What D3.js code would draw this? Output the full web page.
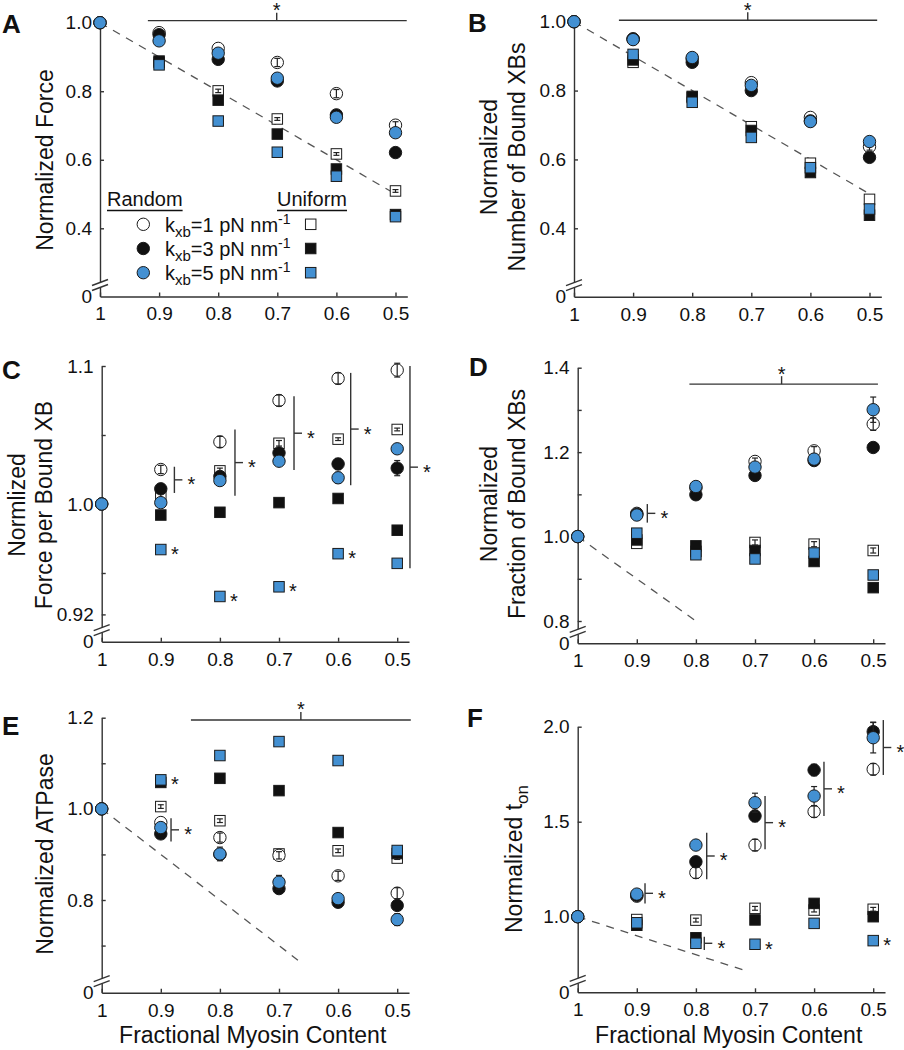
<!DOCTYPE html>
<html><head><meta charset="utf-8">
<script src="https://cdn.jsdelivr.net/npm/d3@7"></script>
<style>
body{margin:0;background:#fff}
svg{display:block}
text{font-family:"Liberation Sans",Arial,Helvetica,sans-serif;fill:#111}
</style>
</head><body>
<svg id="c" width="904" height="1050"></svg>
<script>
// ---------------- DATA ----------------
const fmc = [1, 0.9, 0.8, 0.7, 0.6, 0.5];            // fractional myosin content
const xTickLabels = ["1", "0.9", "0.8", "0.7", "0.6", "0.5"];
const kxbValues = ["1", "3", "5"];
const groupLabels = ["Random", "Uniform"];
const xTitle = "Fractional Myosin Content";

// A: Normalized Force
const forceR1 = [1, 0.971, 0.925, 0.884, 0.793, 0.701];
const forceR3 = [1, 0.965, 0.893, 0.830, 0.731, 0.621];
const forceR5 = [1, 0.947, 0.911, 0.838, 0.724, 0.679];
const forceU1 = [1, 0.884, 0.801, 0.719, 0.617, 0.509];
const forceU3 = [1, 0.888, 0.774, 0.675, 0.573, 0.440];
const forceU5 = [1, 0.877, 0.713, 0.622, 0.552, 0.434];
const forceErrR1 = [0, 0, 0, 0.012, 0.012, 0.010];
const forceErrU1 = [0, 0, 0.005, 0.004, 0.004, 0.004];
const forceYTicks = [0.4, 0.6, 0.8, 1.0];
const forceYLabels = ["0.4", "0.6", "0.8", "1.0"];

// B: Normalized Number of Bound XBs
const boundR1 = [1, 0.950, 0.892, 0.823, 0.722, 0.637];
const boundR3 = [1, 0.950, 0.882, 0.800, 0.712, 0.606];
const boundR5 = [1, 0.948, 0.896, 0.815, 0.710, 0.652];
const boundU1 = [1, 0.882, 0.780, 0.695, 0.589, 0.484];
const boundU3 = [1, 0.889, 0.783, 0.684, 0.562, 0.438];
const boundU5 = [1, 0.905, 0.766, 0.664, 0.576, 0.456];
const boundErrR1 = [0, 0, 0, 0, 0, 0.010];
const boundYTicks = [0.4, 0.6, 0.8, 1.0];
const boundYLabels = ["0.4", "0.6", "0.8", "1.0"];

// C: Normalized Force per Bound XB
const fpxR1 = [1, 1.025, 1.045, 1.075, 1.091, 1.097];
const fpxR3 = [1, 1.011, 1.020, 1.037, 1.029, 1.026];
const fpxR5 = [1, 1.001, 1.017, 1.031, 1.019, 1.040];
const fpxU1 = [1, 1.006, 1.024, 1.044, 1.047, 1.054];
const fpxU3 = [1, 0.992, 0.994, 1.001, 1.004, 0.981];
const fpxU5 = [1, 0.967, 0.933, 0.940, 0.964, 0.957];
const fpxErrR1 = [0, 0.003, 0.004, 0.004, 0.004, 0.005];
const fpxErrR3 = [0, 0.002, 0, 0.002, 0.004, 0.0055];
const fpxErrR5 = [0, 0.002, 0.003, 0.002, 0.004, 0.003];
const fpxErrU1 = [0, 0.002, 0.002, 0.002, 0.001, 0.001];
const fpxErrU3 = [0, 0, 0, 0, 0, 0.0025];
const fpxYTicks = [0.92, 1.0, 1.1];
const fpxYLabels = ["0.92", "1.0", "1.1"];
const fpxYMinor = [0.95, 1.05];

// D: Normalized Fraction of Bound XBs
const fracR1 = [1, 1.055, 1.115, 1.178, 1.203, 1.2665];
const fracR3 = [1, 1.053, 1.099, 1.1447, 1.180, 1.211];
const fracR5 = [1, 1.051, 1.1186, 1.1646, 1.1835, 1.3005];
const fracU1 = [1, 0.984, 0.965, 0.986, 0.982, 0.967];
const fracU3 = [1, 0.992, 0.978, 0.967, 0.941, 0.879];
const fracU5 = [1, 1.008, 0.957, 0.947, 0.961, 0.909];
const fracErrR1 = [0, 0, 0, 0.008, 0.010, 0.015];
const fracErrR3 = [0, 0, 0, 0, 0, 0.010];
const fracErrR5 = [0, 0, 0, 0, 0.012, 0.030];
const fracErrU1 = [0, 0, 0, 0.006, 0.006, 0.006];
const fracYTicks = [0.8, 1.0, 1.2, 1.4];
const fracYLabels = ["0.8", "1.0", "1.2", "1.4"];
const fracYMinor = [0.9, 1.1, 1.3];

// E: Normalized ATPase
const atpR1 = [1, 0.970, 0.937, 0.898, 0.853, 0.815];
const atpR3 = [1, 0.945, 0.900, 0.825, 0.795, 0.788];
const atpR5 = [1, 0.959, 0.901, 0.839, 0.803, 0.757];
const atpU1 = [1, 1.005, 0.974, 0.901, 0.908, 0.892];
const atpU3 = [1, 1.058, 1.067, 1.040, 0.948, 0.902];
const atpU5 = [1, 1.0636, 1.117, 1.1476, 1.106, 0.9086];
const atpErrR1 = [0, 0, 0.010, 0.008, 0.010, 0.012];
const atpErrR3 = [0, 0, 0, 0.010, 0.010, 0];
const atpErrR5 = [0, 0, 0.015, 0.015, 0.010, 0.013];
const atpErrU1 = [0, 0.004, 0.004, 0.004, 0.004, 0.003];
const atpYTicks = [0.8, 1.0, 1.2];
const atpYLabels = ["0.8", "1.0", "1.2"];
const atpYMinor = [0.7, 0.9, 1.1];

// F: Normalized t_on
const tonR1 = [1, 1.108, 1.232, 1.377, 1.553, 1.776];
const tonR3 = [1, 1.112, 1.289, 1.530, 1.772, 1.974];
const tonR5 = [1, 1.119, 1.377, 1.600, 1.635, 1.942];
const tonU1 = [1, 0.985, 0.982, 1.044, 1.035, 1.039];
const tonU3 = [1, 0.955, 0.889, 0.983, 1.070, 1.000];
const tonU5 = [1, 0.968, 0.860, 0.855, 0.965, 0.874];
const tonErrR1 = [0, 0, 0.030, 0.030, 0.030, 0.030];
const tonErrR3 = [0, 0, 0, 0.030, 0.030, 0.050];
const tonErrR5 = [0, 0, 0, 0.050, 0.050, 0.080];
const tonErrU1 = [0, 0, 0.010, 0.010, 0.010, 0.010];
const tonYTicks = [1.0, 1.5, 2.0];
const tonYLabels = ["1.0", "1.5", "2.0"];

// significance annotations (data units)
const sigBarA = [0.919, 0.481, 1.006, 0.701];   // x from, x to, y, x of star
const sigBarB = [0.924, 0.487, 1.004, 0.706];
const sigBarD = [0.811, 0.492, 1.361, 0.655];
const sigBarE = [0.849, 0.477, 1.195, 0.663];
const bracketsC = [[0.877, 1.027, 1.008], [0.7745, 1.054, 1.006], [0.6746, 1.078, 1.0246], [0.5787, 1.095, 1.0136], [0.4784, 1.100, 0.9534]];
const bracketsD = [[0.8822, 1.077, 1.033]];
const bracketsE = [[0.8827, 0.9796, 0.9283]];
const bracketsF = [[0.8861, 1.176, 1.070], [0.7817, 1.442, 1.197], [0.7858, 0.895, 0.825], [0.683, 1.635, 1.355], [0.5833, 1.816, 1.530], [0.4829, 2.035, 1.746]];
const starsC = [[0.9, 0.967], [0.8, 0.933], [0.7, 0.940], [0.6, 0.964]];
const starsE = [[0.9, 1.0636]];
const starsF = [[0.7, 0.855], [0.5, 0.874]];

// identity (y = x) dashed reference ends
const identityEndA = 0.5, identityEndB = 0.5, identityEndD = 0.8, identityEndE = 0.668, identityEndF = 0.715;

// ---------------- DRAWING ----------------
const svg = d3.select("#c");
const BLUE = "#4390d2", BLACK = "#111", AX = "#333";
const seriesStyle = {
  u1: {shape: "square", fill: "#fff"},
  u3: {shape: "square", fill: BLACK},
  u5: {shape: "square", fill: BLUE},
  r1: {shape: "circle", fill: "#fff"},
  r3: {shape: "circle", fill: BLACK},
  r5: {shape: "circle", fill: BLUE}
};
const drawOrder = ["u1", "u3", "u5", "r1", "r3", "r5"];
const FONT_TICK = 19, FONT_TITLE = 23;

function panel(cfg) {
  const g = svg.append("g");
  const x = d3.scaleLinear().domain([1, 0.48]).range([cfg.left, cfg.left + 0.52 * 591]);
  const lin = d3.scaleLinear().domain([cfg.yLowVal, cfg.yTopVal]).range([cfg.yLowPx, cfg.yTopPx]);
  const breakPx = cfg.axisY - 11;
  const breakVal = lin.invert(breakPx);
  const y = d3.scaleLinear().domain([0, breakVal, cfg.yTopVal]).range([cfg.axisY, breakPx, cfg.yTopPx]);

  // x axis
  const xa = g.append("g").attr("transform", `translate(0,${cfg.axisY})`)
    .call(d3.axisBottom(x).tickValues(fmc).tickSize(-4).tickSizeOuter(0).tickPadding(10.5)
      .tickFormat((d, i) => xTickLabels[i]));
  // y axis
  const yVals = cfg.yTicks.concat([0]);
  const yLabs = cfg.yLabels.concat(["0"]);
  const ya = g.append("g").attr("transform", `translate(${cfg.left},0)`)
    .call(d3.axisLeft(y).tickValues(yVals).tickSize(-4).tickSizeOuter(0).tickPadding(8)
      .tickFormat((d, i) => yLabs[i]));
  ya.selectAll(".tick").filter(d => d === 0).select("line").remove();
  if (cfg.minor) {
    g.append("g").attr("transform", `translate(${cfg.left},0)`)
      .call(d3.axisLeft(y).tickValues(cfg.minor).tickSize(-4).tickSizeOuter(0).tickFormat(""))
      .select(".domain").remove();
  }
  [xa, ya].forEach(a => {
    a.attr("font-family", null).attr("font-size", FONT_TICK);
    a.selectAll("path,line").attr("stroke", AX).attr("stroke-width", 1.4);
    a.selectAll("text").attr("fill", "#111");
  });
  g.selectAll("line").attr("stroke", AX).attr("stroke-width", 1.4);
  // axis break
  g.append("rect").attr("x", cfg.left - 3).attr("y", breakPx - 3).attr("width", 6).attr("height", 5).attr("fill", "#fff");
  [[-1, -4], [-1 + 5, -4 + 5]].forEach(([a, b]) => {
    g.append("line").attr("x1", cfg.left - 8).attr("y1", breakPx + b + 3 + 1)
      .attr("x2", cfg.left + 8).attr("y2", breakPx + b - 2)
      .attr("stroke", AX).attr("stroke-width", 1.4);
  });

  // identity dashed line
  if (cfg.identityEnd) {
    g.append("line").attr("x1", x(1)).attr("y1", y(1)).attr("x2", x(cfg.identityEnd)).attr("y2", y(cfg.identityEnd))
      .attr("stroke", "#555").attr("stroke-width", 1.3).attr("stroke-dasharray", "8,7");
  }

  // top significance bar
  if (cfg.sigBar) {
    const [a, b, v, s] = cfg.sigBar;
    g.append("line").attr("x1", x(a)).attr("x2", x(b)).attr("y1", y(v)).attr("y2", y(v)).attr("stroke", AX).attr("stroke-width", 1.4);
    g.append("line").attr("x1", x(s)).attr("x2", x(s)).attr("y1", y(v)).attr("y2", y(v) - 8).attr("stroke", AX).attr("stroke-width", 1.4);
    star(g, x(s), y(v) - 15);
  }
  (cfg.brackets || []).forEach(([bx, v1, v2]) => {
    const X = x(bx), ym = (y(v1) + y(v2)) / 2;
    g.append("line").attr("x1", X).attr("x2", X).attr("y1", y(v1)).attr("y2", y(v2)).attr("stroke", AX).attr("stroke-width", 1.4);
    g.append("line").attr("x1", X).attr("x2", X + 8).attr("y1", ym).attr("y2", ym).attr("stroke", AX).attr("stroke-width", 1.4);
    star(g, X + 17, ym);
  });
  (cfg.stars || []).forEach(([sx, sv]) => star(g, x(sx) + 14, y(sv)));

  // series
  drawOrder.forEach(key => {
    const vals = cfg.series[key];
    const errs = (cfg.errors && cfg.errors[key]) || null;
    const st = seriesStyle[key];
    const open = st.fill === "#fff";
    const pts = fmc.map((f, i) => ({f, v: vals[i], e: errs ? errs[i] : 0}));
    const drawErr = () => {
      pts.filter(p => p.e > 0).forEach(p => {
        const X = x(p.f), y1 = y(p.v - p.e), y2 = y(p.v + p.e);
        g.append("line").attr("x1", X).attr("x2", X).attr("y1", y1).attr("y2", y2).attr("stroke", "#222").attr("stroke-width", 1.2);
        [y1, y2].forEach(yy => g.append("line").attr("x1", X - 3).attr("x2", X + 3).attr("y1", yy).attr("y2", yy).attr("stroke", "#222").attr("stroke-width", 1.2));
      });
    };
    if (!open) drawErr();
    if (st.shape === "circle") {
      g.selectAll(null).data(pts).join("circle")
        .attr("cx", p => x(p.f)).attr("cy", p => y(p.v)).attr("r", 6.2)
        .attr("fill", st.fill).attr("stroke", "#1a1a1a").attr("stroke-width", 1);
    } else {
      const s = 10.5;
      g.selectAll(null).data(pts.filter(p => p.f !== 1)).join("rect")
        .attr("x", p => x(p.f) - s / 2).attr("y", p => y(p.v) - s / 2).attr("width", s).attr("height", s)
        .attr("fill", st.fill).attr("stroke", "#1a1a1a").attr("stroke-width", 1);
    }
    if (open) drawErr();
  });

  // panel letter
  svg.append("text").attr("x", cfg.letterX).attr("y", cfg.letterY).attr("font-size", 26).attr("font-weight", "bold").text(cfg.letter);
  // y title lines
  cfg.yTitle.forEach(([txt, bx, sub]) => {
    const t = svg.append("text").attr("transform", `translate(${bx},${cfg.titleCY}) rotate(-90)`)
      .attr("text-anchor", "middle").attr("font-size", FONT_TITLE).text(txt);
    if (sub) t.append("tspan").attr("font-size", 17).attr("dy", 6).text(sub);
  });
  if (cfg.xTitle) {
    svg.append("text").attr("x", cfg.left + 151).attr("y", 1043).attr("text-anchor", "middle").attr("font-size", FONT_TITLE).text(xTitle);
  }
  return {g, x, y};
}

function star(g, cx, cy) {
  g.append("text").attr("x", cx).attr("y", cy + 11.5).attr("text-anchor", "middle").attr("font-size", 20).text("*");
}

const A = panel({
  letter: "A", letterX: 2, letterY: 33,
  left: 100, axisY: 296.5, yTopVal: 1.0, yTopPx: 22.7, yLowVal: 0.4, yLowPx: 228.3,
  yTicks: forceYTicks, yLabels: forceYLabels,
  series: {r1: forceR1, r3: forceR3, r5: forceR5, u1: forceU1, u3: forceU3, u5: forceU5},
  errors: {r1: forceErrR1, u1: forceErrU1},
  identityEnd: identityEndA, sigBar: sigBarA,
  yTitle: [["Normalized Force", 53]], titleCY: 160
});
panel({
  letter: "B", letterX: 468, letterY: 32,
  left: 574, axisY: 296.7, yTopVal: 1.0, yTopPx: 21.7, yLowVal: 0.4, yLowPx: 228.3,
  yTicks: boundYTicks, yLabels: boundYLabels,
  series: {r1: boundR1, r3: boundR3, r5: boundR5, u1: boundU1, u3: boundU3, u5: boundU5},
  errors: {r1: boundErrR1},
  identityEnd: identityEndB, sigBar: sigBarB,
  yTitle: [["Normalized", 497], ["Number of Bound XBs", 525]], titleCY: 157
});
panel({
  letter: "C", letterX: 2, letterY: 379,
  left: 101.7, axisY: 641.7, yTopVal: 1.1, yTopPx: 366, yLowVal: 0.92, yLowPx: 614.4,
  yTicks: fpxYTicks, yLabels: fpxYLabels, minor: fpxYMinor,
  series: {r1: fpxR1, r3: fpxR3, r5: fpxR5, u1: fpxU1, u3: fpxU3, u5: fpxU5},
  errors: {r1: fpxErrR1, r3: fpxErrR3, r5: fpxErrR5, u1: fpxErrU1, u3: fpxErrU3},
  brackets: bracketsC, stars: starsC,
  yTitle: [["Normlized", 25], ["Force per Bound XB", 52]], titleCY: 505
});
panel({
  letter: "D", letterX: 469, letterY: 376,
  left: 577.7, axisY: 643.3, yTopVal: 1.4, yTopPx: 367.7, yLowVal: 0.8, yLowPx: 621,
  yTicks: fracYTicks, yLabels: fracYLabels, minor: fracYMinor,
  series: {r1: fracR1, r3: fracR3, r5: fracR5, u1: fracU1, u3: fracU3, u5: fracU5},
  errors: {r1: fracErrR1, r3: fracErrR3, r5: fracErrR5, u1: fracErrU1},
  identityEnd: identityEndD, sigBar: sigBarD, brackets: bracketsD,
  yTitle: [["Normalized", 497], ["Fraction of Bound XBs", 525]], titleCY: 504
});
panel({
  letter: "E", letterX: 2, letterY: 735,
  left: 101.7, axisY: 992.7, yTopVal: 1.2, yTopPx: 717.7, yLowVal: 0.8, yLowPx: 900,
  yTicks: atpYTicks, yLabels: atpYLabels, minor: atpYMinor,
  series: {r1: atpR1, r3: atpR3, r5: atpR5, u1: atpU1, u3: atpU3, u5: atpU5},
  errors: {r1: atpErrR1, r3: atpErrR3, r5: atpErrR5, u1: atpErrU1},
  identityEnd: identityEndE, sigBar: sigBarE, brackets: bracketsE, stars: starsE,
  yTitle: [["Normalized ATPase", 53]], titleCY: 854, xTitle: true
});
panel({
  letter: "F", letterX: 467, letterY: 727,
  left: 577.7, axisY: 992.3, yTopVal: 2.0, yTopPx: 726.7, yLowVal: 1.0, yLowPx: 916.7,
  yTicks: tonYTicks, yLabels: tonYLabels,
  series: {r1: tonR1, r3: tonR3, r5: tonR5, u1: tonU1, u3: tonU3, u5: tonU5},
  errors: {r1: tonErrR1, r3: tonErrR3, r5: tonErrR5, u1: tonErrU1},
  identityEnd: identityEndF, brackets: bracketsF, stars: starsF,
  yTitle: [["Normalized t", 522, "on"]], titleCY: 859, xTitle: true
});

// legend in panel A
const lg = svg.append("g");
const legendXs = [107, 277];
groupLabels.forEach((lab, i) => {
  const t = lg.append("text").attr("x", legendXs[i]).attr("y", 206).attr("font-size", 20).text(lab);
  const w = t.node().getComputedTextLength();
  lg.append("line").attr("x1", legendXs[i]).attr("x2", legendXs[i] + w).attr("y1", 210.5).attr("y2", 210.5).attr("stroke", "#111").attr("stroke-width", 1.4);
});
const legendFill = ["#fff", BLACK, BLUE];
kxbValues.forEach((k, i) => {
  const cy = 224.3 + i * 24.2;
  lg.append("circle").attr("cx", 143.3).attr("cy", cy).attr("r", 6.2).attr("fill", legendFill[i]).attr("stroke", "#1a1a1a");
  lg.append("rect").attr("x", 310.7 - 5.25).attr("y", cy - 5.25).attr("width", 10.5).attr("height", 10.5).attr("fill", legendFill[i]).attr("stroke", "#1a1a1a");
  const t = lg.append("text").attr("x", 165).attr("y", cy + 7.5).attr("font-size", 20);
  t.append("tspan").text("k");
  t.append("tspan").attr("font-size", 15).attr("dy", 5).text("xb");
  t.append("tspan").attr("dy", -5).text(`=${k} pN nm`);
  t.append("tspan").attr("font-size", 14).attr("dy", -8).text("-1");
});
</script>
</body></html>
